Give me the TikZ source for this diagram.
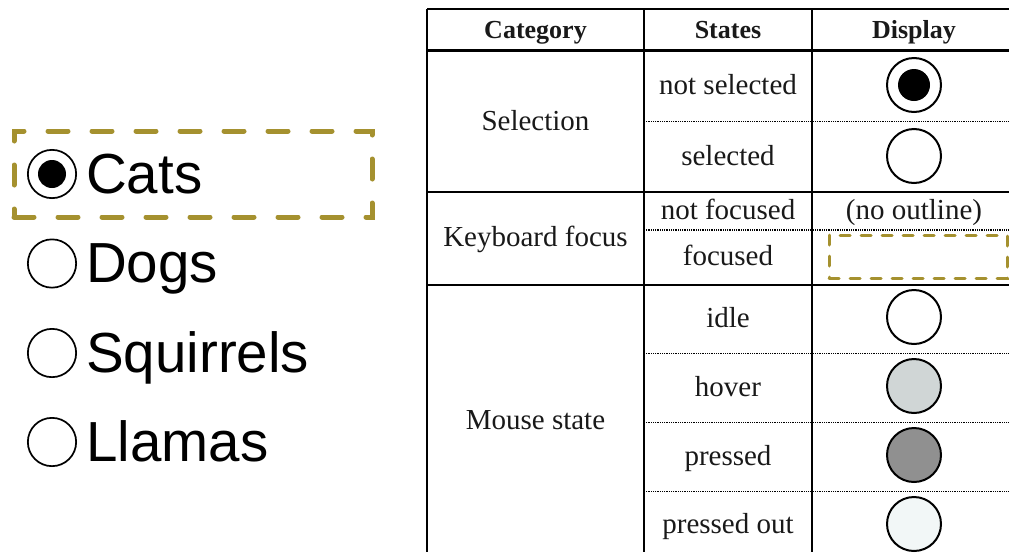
\documentclass[tikz,border=0pt]{standalone}
\usepackage{fontspec}
\setmainfont{Liberation Serif}
\newfontfamily\sansf{Liberation Sans}
\definecolor{focusolive}{HTML}{A5912F}
\definecolor{hovergray}{HTML}{D0D6D6}
\definecolor{pressgray}{HTML}{909090}
\definecolor{outgray}{HTML}{F2F7F7}
\begin{document}
\begin{tikzpicture}[x=1pt,y=-1pt,
  radio/.style={circle, draw, line width=1.7pt, minimum size=48.3pt, inner sep=0pt},
  radiodot/.style={circle, fill=black, inner sep=0pt, minimum size=28pt},
  lbl/.style={anchor=base west, inner sep=0pt, font=\sansf\fontsize{56.5}{60}\selectfont},
  cell/.style={anchor=base, inner sep=0pt, text=black!90, font=\fontsize{29}{32}\selectfont},
  head/.style={anchor=base, inner sep=0pt, text=black!90, font=\bfseries\fontsize{26}{30}\selectfont},
  disp/.style={circle, draw, line width=2pt, minimum size=54pt, inner sep=0pt},
  dispdot/.style={circle, fill=black, inner sep=0pt, minimum size=32pt},
  focusbox/.style={draw=focusolive, line width=5pt, line cap=round, dash pattern=on 20pt off 24pt, inner sep=0pt},
  tfocus/.style={draw=focusolive, line width=3pt, line cap=round, dash pattern=on 10pt off 11pt, inner sep=0pt},
  tline/.style={line width=2pt},
  dotline/.style={line width=1.2pt, dash pattern=on 1pt off 0.8pt, black}
]
\useasboundingbox (0,0) rectangle (1009,552);

% ---- left radio group ----
\node[focusbox, minimum width=358pt, minimum height=86pt] (fbox) at (193,174) {};
\node[radio] (r1) at (52,174) {};
\node[radiodot] (r1dot) at (r1.center) {};
\node[lbl] (t1) at (86,193) {Cats};
\node[radio] (r2) at (52,263.5) {};
\node[lbl] (t2) at (86,282.5) {Dogs};
\node[radio] (r3) at (52,353) {};
\node[lbl] (t3) at (86,372) {Squirrels};
\node[radio] (r4) at (52,442) {};
\node[lbl] (t4) at (86,461) {Llamas};

% ---- table lines ----
\draw[line width=1.7pt] (427,9.3) -- (1009,9.3);
\draw[line width=3pt] (427,50.7) -- (1009,50.7);
\draw[tline] (427,191.7) -- (1009,191.7);
\draw[tline] (427,285) -- (1009,285);
\draw[tline] (427,8.5) -- (427,552);
\draw[tline] (644,8.5) -- (644,552);
\draw[tline] (812,8.5) -- (812,552);
\draw[dotline] (644,121.7) -- (1009,121.7);
\draw[dotline] (644,230) -- (1009,230);
\draw[dotline] (644,353.3) -- (1009,353.3);
\draw[dotline] (644,422.7) -- (1009,422.7);
\draw[dotline] (644,491.7) -- (1009,491.7);

% ---- header ----
\node[head] (h1) at (535.5,38) {Category};
\node[head] (h2) at (728,38) {States};
\node[head] (h3) at (914,38) {Display};

% ---- selection ----
\node[cell] (c1) at (535.5,130) {Selection};
\node[cell] (s1) at (728,94.5) {not selected};
\node[cell] (s2) at (728,165) {selected};
\node[disp] (d1) at (914,85) {};
\node[dispdot] (d1dot) at (d1.center) {};
\node[disp] (d2) at (914,156) {};

% ---- keyboard focus ----
\node[cell] (c2) at (535.5,246.5) {Keyboard focus};
\node[cell] (s3) at (728,219.5) {not focused};
\node[cell] (s4) at (728,265.5) {focused};
\node[cell] (d3) at (914,219.5) {(no outline)};
\node[tfocus, minimum width=178pt, minimum height=43pt] (d4) at (918,256.5) {};

% ---- mouse state ----
\node[cell] (c3) at (535.5,429) {Mouse state};
\node[cell] (s5) at (728,327) {idle};
\node[cell] (s6) at (728,396.5) {hover};
\node[cell] (s7) at (728,465) {pressed};
\node[cell] (s8) at (728,533.5) {pressed out};
\node[disp, fill=white] (d5) at (914,317) {};
\node[disp, fill=hovergray] (d6) at (914,386) {};
\node[disp, fill=pressgray] (d7) at (914,455) {};
\node[disp, fill=outgray] (d8) at (914,524) {};
\end{tikzpicture}
\end{document}
